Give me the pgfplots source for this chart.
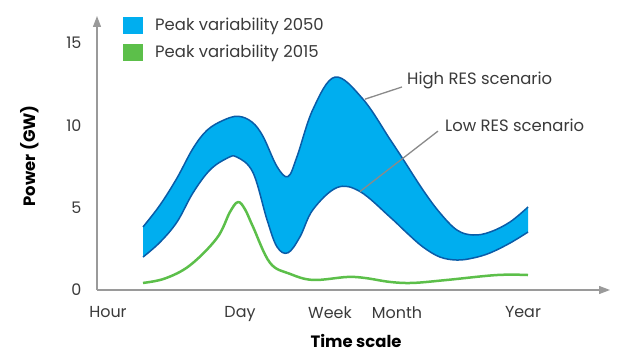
\documentclass[border=0pt]{standalone}
\usepackage{fontspec}
\setmainfont{Poppins}
\usepackage{pgfplots}
\pgfplotsset{compat=1.18}
\usepgfplotslibrary{fillbetween}
\usetikzlibrary{arrows.meta}
\definecolor{bandfill}{HTML}{00AEEF}
\definecolor{bandline}{HTML}{0A5CA8}
\definecolor{grn}{HTML}{5CBF4A}
\definecolor{axgray}{HTML}{9A9A9A}
\definecolor{txt}{HTML}{3A3A3A}
\definecolor{leader}{HTML}{8A8A8A}
\begin{document}
\begin{tikzpicture}
\begin{axis}[
  at={(0,0)}, anchor=south west, scale only axis,
  width=513bp, height=274bp,
  xmin=97, xmax=610, ymin=0, ymax=16.64,
  set layers, clip=false,
  axis lines=left,
  x axis line style={axgray, line width=1.2bp, -{Triangle[length=11bp,width=8bp]}},
  y axis line style={axgray, line width=1.2bp, -{Triangle[length=11bp,width=8bp]}},
  major tick length=0pt,
  xtick={108,240,330,397,523},
  xticklabels={Hour,Day,Week,Month,Year},
  ytick={0,5,10,15},
  /pgf/number format/assume math mode=true,
  tick label style={font=\fontsize{16}{19}\selectfont, text=txt},
  xticklabel style={yshift=-13bp},
  yticklabel style={xshift=-12bp},
  xlabel={Time scale}, ylabel={Power (GW)},
  xlabel style={at={(rel axis cs:0.505,-0.186)}, anchor=center, font=\bfseries\fontsize{16.5}{19}\selectfont, text=black},
  ylabel style={at={(rel axis cs:-0.1306,0.49)}, anchor=center, font=\bfseries\fontsize{16.5}{19}\selectfont, text=black},
  legend style={at={(rel axis cs:0.0507,1)}, anchor=north west, draw=none, fill=none,
    inner sep=0pt, row sep=9bp, font=\fontsize{16.5}{19}\selectfont, text=txt,
    /tikz/every odd column/.append style={column sep=10bp}},
  legend cell align=left,
  legend image code/.code={\fill[#1, draw=none] (0bp,-8.5bp) rectangle (20bp,8.5bp);},
]
\addlegendimage{fill=bandfill, draw=none}
\addlegendentry{Peak variability 2050}
\addlegendimage{fill=grn, draw=none}
\addlegendentry{Peak variability 2015}

\addplot[name path=up, bandline, line width=1.5bp, smooth, tension=0.6] coordinates {
 (143,3.83) (160,5.16) (177,6.8) (193,8.6) (207,9.7) (223,10.3) (238,10.55) (252,10.2)
 (263,9.33) (277,7.5) (288,6.89) (297,8.1) (313,10.98) (335,12.93) (363,11.59) (390,9.15)
 (403,7.95) (423,6.07) (440,4.68) (457,3.64) (473,3.34) (490,3.52) (510,4.13) (528,5.04)};
\addplot[name path=lo, bandline, line width=1.5bp, smooth, tension=0.6] coordinates {
 (143,2.0) (160,2.9) (177,4.13) (193,5.9) (210,7.29) (227,8.0) (237,8.07) (253,7.13)
 (267,4.27) (277,2.62) (288,2.26) (300,3.23) (313,4.88) (337,6.22) (360,5.98) (390,4.43)
 (407,3.46) (423,2.61) (440,2.0) (457,1.82) (473,1.94) (490,2.25) (510,2.85) (528,3.52)};
\addplot[bandfill] fill between[of=up and lo];
\addplot[grn, line width=2.5bp, smooth, tension=0.6] coordinates {
 (143,0.43) (165,0.7) (190,1.5) (217,3.16) (230,4.74) (238,5.34) (245,4.9) (253,3.84)
 (270,1.65) (290,0.98) (313,0.61) (347,0.79) (365,0.73) (390,0.49) (413,0.43) (447,0.61)
 (497,0.91) (528,0.91)};

\draw[leader, line width=1.3bp] (axis cs:365,11.59) -- (axis cs:402,12.33);
\draw[leader, line width=1.3bp] (axis cs:360,5.98) -- (axis cs:438,9.65);
\node[anchor=west, text=txt, font=\fontsize{16.5}{19}\selectfont, inner sep=0pt] at (axis cs:407,12.75) {High RES scenario};
\node[anchor=west, text=txt, font=\fontsize{16.5}{19}\selectfont, inner sep=0pt] at (axis cs:445,10.02) {Low RES scenario};
\end{axis}
\path (-97bp,-69bp) rectangle (544bp,290bp);
\end{tikzpicture}
\end{document}
